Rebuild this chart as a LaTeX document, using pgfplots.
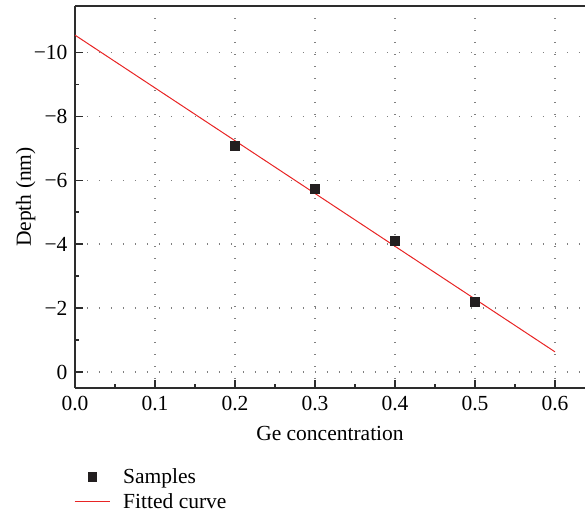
\documentclass[border=0pt]{standalone}
\usepackage{fontspec}
\setmainfont{Liberation Serif}
\usepackage{pgfplots}
\pgfplotsset{compat=1.18}
\definecolor{fitred}{RGB}{232,36,36}
\definecolor{axisgray}{RGB}{45,45,45}
\definecolor{mk}{RGB}{35,31,32}
\pgfplotsset{
  sampleslegend/.style={legend image code/.code={\draw[mark repeat=2,mark phase=2,#1] plot coordinates {(0pt,0pt) (17.5pt,0pt) (35pt,0pt)};}},
  fitlegend/.style={legend image code/.code={\draw[#1] (0pt,0pt) -- (35pt,0pt);}},
}
\begin{document}
\begin{tikzpicture}[font=\fontsize{21.5}{25}\selectfont]
\begin{axis}[
  scale only axis, width=510pt, height=382pt,
  xmin=0, xmax=0.6375, ymin=-11.44, ymax=0.5, y dir=reverse,
  axis x line*=box, axis y line*=left,
  axis line style={axisgray, line width=1.4pt},
  xtick={0,0.1,0.2,0.3,0.4,0.5,0.6},
  xticklabels={0.0,0.1,0.2,0.3,0.4,0.5,0.6},
  ytick={0,-2,-4,-6,-8,-10},
  yticklabels={0,−2,−4,−6,−8,−10},
  minor x tick num=1, minor y tick num=1,
  xtick pos=left,
  major tick length=8pt, minor tick length=4pt,
  tick style={axisgray, line width=1.1pt},
  tick align=inside,
  grid=major,
  major grid style={gray, line width=1.1pt, dash pattern=on 1.1pt off 10.9pt},
  xlabel={Ge concentration}, ylabel={Depth (nm)},
  xlabel style={yshift=-8pt},
  ylabel style={at={(axis description cs:-0.0706,0.5)}, anchor=south},
  xticklabel style={yshift=-5pt},
  yticklabel style={xshift=-4pt},
  legend style={at={(0,0)}, anchor=north west, xshift=-4pt, yshift=-76pt, draw=none, fill=none, row sep=5pt, column sep=11pt},
  legend cell align=left,
]
\addplot[only marks, mark=square*, mark size=4.4pt, mk, mark options={draw=mk, fill=mk}, sampleslegend]
  coordinates {(0.2,-7.07) (0.3,-5.74) (0.4,-4.10) (0.5,-2.20)};
\addlegendentry{Samples}
\addplot[fitred, line width=1pt, fitlegend]
  coordinates {(0,-10.53) (0.6,-0.63)};
\addlegendentry{Fitted curve}
\end{axis}
\pgfresetboundingbox
\path ([xshift=-75pt, yshift=6pt]current axis.north west) rectangle ([yshift=-127pt]current axis.south east);
\end{tikzpicture}
\end{document}
